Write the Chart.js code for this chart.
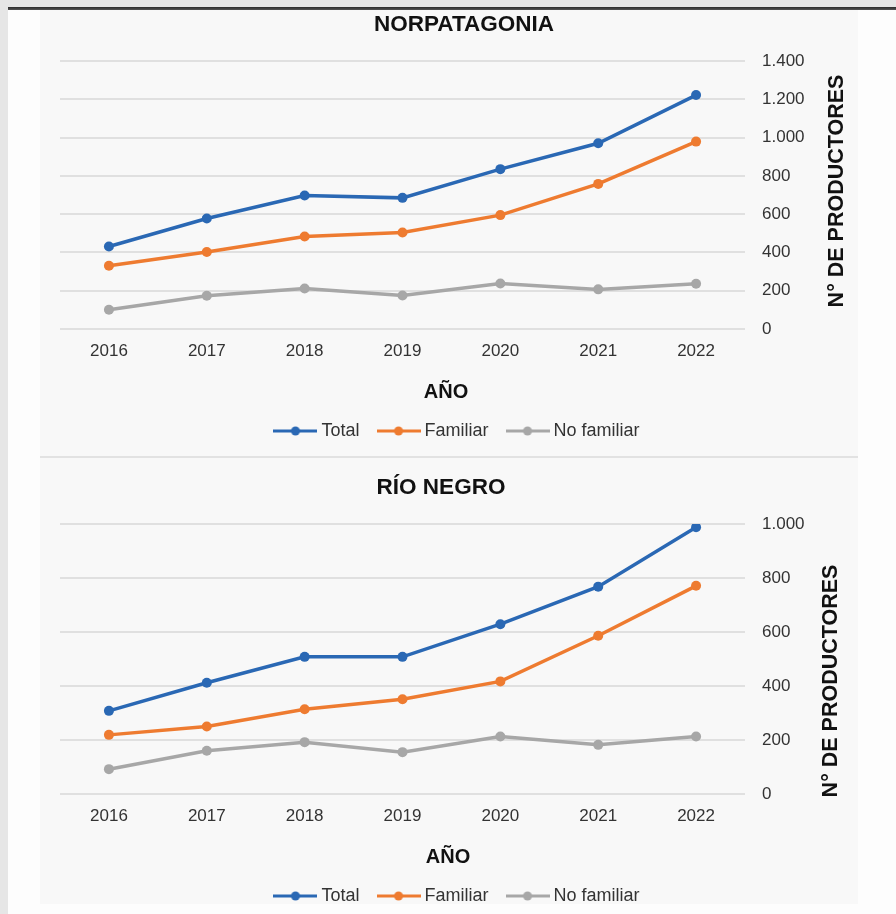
<!DOCTYPE html>
<html lang="es">
<head>
<meta charset="utf-8">
<title>Productores - Norpatagonia y Río Negro</title>
<script src="https://cdn.jsdelivr.net/npm/chart.js@4.4.1/dist/chart.umd.min.js"></script>
<style>
  html, body { margin: 0; padding: 0; }
  body {
    width: 896px;
    height: 914px;
    position: relative;
    overflow: hidden;
    background: #e6e6e6;
    font-family: "Liberation Sans", Arial, sans-serif;
  }
  .topbar {
    position: absolute; left: 8px; right: 0; top: 7px; height: 3px;
    background: linear-gradient(#2b2b2b, #555);
  }
  .page {
    position: absolute; left: 8px; right: 0; top: 10px; bottom: 0;
    background: #fdfdfd;
  }
  .panel {
    position: absolute; left: 40px; width: 818px; top: 10px; height: 894px;
    background: #f8f8f8;
  }
  .sep {
    position: absolute; left: 40px; width: 818px; top: 456px; height: 2px;
    background: #e2e2e2;
  }
  .chart-box { position: absolute; left: 40px; width: 818px; }
  #box-norp { top: 10px; height: 440px; }
  #box-rio { top: 458px; height: 457px; }
</style>
</head>
<body>
<div class="topbar"></div>
<div class="page"></div>
<div class="panel"></div>
<div class="sep"></div>
<div class="chart-box" id="box-norp"><canvas id="chart-norp"></canvas></div>
<div class="chart-box" id="box-rio"><canvas id="chart-rio"></canvas></div>

<script>
// Años relevados
const years = ['2016', '2017', '2018', '2019', '2020', '2021', '2022'];

// Norpatagonia: número de productores
const norpTotal = [431, 577, 697, 685, 835, 970, 1222];
const norpFamiliar = [330, 402, 483, 504, 595, 758, 979];
const norpNoFamiliar = [101, 174, 212, 175, 238, 207, 236];

// Río Negro: número de productores
const rioTotal = [308, 412, 508, 508, 629, 768, 988];
const rioFamiliar = [219, 250, 314, 351, 417, 586, 771];
const rioNoFamiliar = [92, 160, 192, 155, 213, 182, 213];

// Escalas del eje Y (mínimo, máximo y paso)
const norpScale = [0, 1400, 200];
const rioScale = [0, 1000, 200];

const seriesLabels = ['Total', 'Familiar', 'No familiar'];
const seriesColors = ['#2a68b4', '#ee7b30', '#a7a7a7'];

const FONT = '"Liberation Sans", Arial, sans-serif';
const TEXT_COLOR = '#333';
const TITLE_COLOR = '#111';

// 1400 -> "1.400"
function formatMiles(v) {
  return String(v).replace(/\B(?=(\d{3})+(?!\d))/g, '.');
}

// Muestra de leyenda: línea con marcador al centro
function legendSwatch(color) {
  const c = document.createElement('canvas');
  c.width = 44;
  c.height = 12;
  const ctx = c.getContext('2d');
  ctx.strokeStyle = color;
  ctx.lineWidth = 3;
  ctx.beginPath();
  ctx.moveTo(0, 6);
  ctx.lineTo(44, 6);
  ctx.stroke();
  ctx.fillStyle = color;
  ctx.beginPath();
  ctx.arc(22, 6, 4.5, 0, Math.PI * 2);
  ctx.fill();
  return c;
}

function drawText(ctx, text, x, y, size, rotate) {
  ctx.save();
  ctx.translate(x, y);
  if (rotate) ctx.rotate(-Math.PI / 2);
  ctx.font = `bold ${size}px ${FONT}`;
  ctx.fillStyle = TITLE_COLOR;
  ctx.textAlign = 'center';
  ctx.textBaseline = 'middle';
  ctx.fillText(text, 0, 0);
  ctx.restore();
}

// Títulos: gráfico, eje X (AÑO) y eje derecho vertical de abajo hacia arriba
const titlesPlugin = {
  id: 'titles',
  afterDraw(chart, args, opts) {
    const { ctx, chartArea } = chart;
    drawText(ctx, opts.title, opts.titleX, opts.titleY, 22.5, false);
    drawText(ctx, 'AÑO', opts.xTitleX, chartArea.bottom + 63, 20, false);
    drawText(ctx, 'N° DE PRODUCTORES', opts.yTitleX,
      (chartArea.top + chartArea.bottom) / 2 + opts.yTitleDy, 21.5, true);
  },
};

function createLineChart({ canvasId, scale, series, titles, top }) {
  const [yMin, yMax, yStep] = scale;

  return new Chart(document.getElementById(canvasId), {
    type: 'line',
    data: {
      labels: years,
      datasets: series.map((data, i) => ({
        label: seriesLabels[i],
        data,
        borderColor: seriesColors[i],
        backgroundColor: seriesColors[i],
        borderWidth: 3.5,
        pointRadius: 5,
        pointHoverRadius: 5,
        pointBackgroundColor: seriesColors[i],
        pointBorderColor: seriesColors[i],
        pointBorderWidth: 0,
        tension: 0,
      })),
    },
    options: {
      responsive: true,
      maintainAspectRatio: false,
      animation: false,
      devicePixelRatio: 1,
      layout: { padding: { left: 20, right: 0, top, bottom: 0 } },
      plugins: {
        title: { display: false },
        legend: {
          position: 'bottom',
          labels: {
            color: TEXT_COLOR,
            font: { family: FONT, size: 18 },
            usePointStyle: true,
            pointStyleWidth: 34,
            padding: 22,
            generateLabels(chart) {
              return Chart.defaults.plugins.legend.labels.generateLabels(chart).map((item, i) => ({
                ...item,
                pointStyle: legendSwatch(seriesColors[i]),
                fontColor: TEXT_COLOR,
              }));
            },
          },
        },
        tooltip: { enabled: false },
        titles,
      },
      scales: {
        x: {
          offset: true,
          grid: { display: false, drawTicks: false },
          border: { display: false },
          ticks: {
            color: TEXT_COLOR,
            font: { family: FONT, size: 17 },
            padding: 12,
          },
          afterFit(s) {
            s.height = 71;
            s.paddingLeft = 0;
            s.paddingRight = 0;
          },
        },
        y: {
          position: 'right',
          min: yMin,
          max: yMax,
          grid: { color: '#e0e0e0', lineWidth: 2, drawTicks: false },
          border: { display: false },
          ticks: {
            stepSize: yStep,
            color: TEXT_COLOR,
            font: { family: FONT, size: 17 },
            padding: 17,
            callback: v => formatMiles(v),
          },
          afterFit(s) {
            s.width = 113;
            s.paddingTop = 0;
            s.paddingBottom = 0;
          },
        },
      },
    },
    plugins: [titlesPlugin],
  });
}

createLineChart({
  canvasId: 'chart-norp',
  scale: norpScale,
  series: [norpTotal, norpFamiliar, norpNoFamiliar],
  top: 51,
  titles: {
    title: 'NORPATAGONIA',
    titleX: 424,
    titleY: 15,
    xTitleX: 406,
    yTitleX: 797,
    yTitleDy: -4,
  },
});

createLineChart({
  canvasId: 'chart-rio',
  scale: rioScale,
  series: [rioTotal, rioFamiliar, rioNoFamiliar],
  top: 66,
  titles: {
    title: 'RÍO NEGRO',
    titleX: 401,
    titleY: 30,
    xTitleX: 408,
    yTitleX: 791,
    yTitleDy: 22,
  },
});
</script>
</body>
</html>
